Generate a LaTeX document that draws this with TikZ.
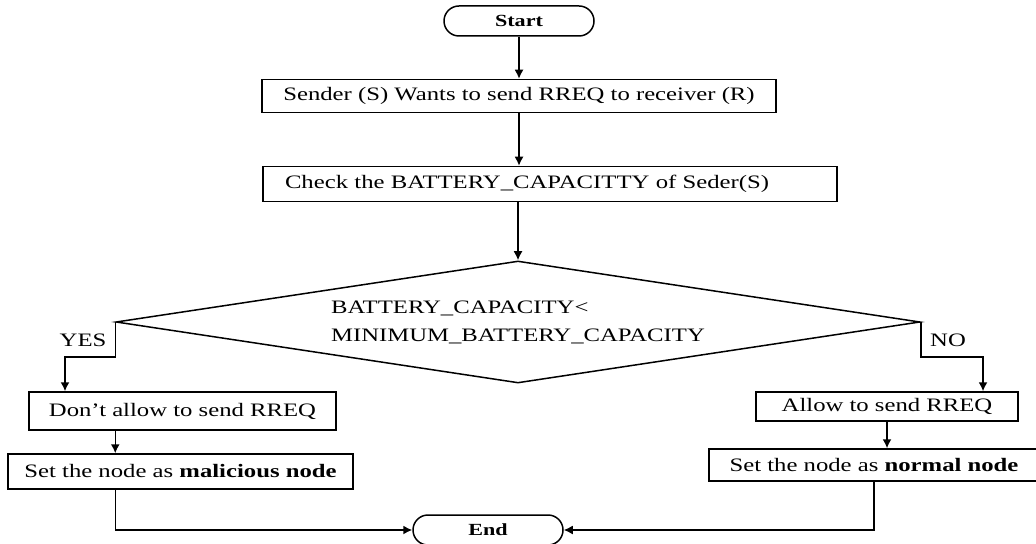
\documentclass[tikz,border=0pt]{standalone}
\usepackage{fontspec}
\setmainfont{Liberation Serif}[FakeStretch=1.3]
\usetikzlibrary{shapes.geometric,arrows.meta}
\newdimen\unitsize
\setlength{\unitsize}{0.5pt}

\begin{document}
\begin{tikzpicture}[x=\unitsize,y=-\unitsize,line width=0.75pt]
\tikzset{box/.style={draw, rectangle, inner sep=0pt, font=\fontsize{9.5}{11}\selectfont}}%
\tikzset{terminal/.style={draw, rectangle, rounded corners=7.5pt, inner sep=0pt, minimum width=150\unitsize, minimum height=30\unitsize, font=\fontsize{8.5}{10}\selectfont\bfseries}}%
\tikzset{decision/.style={draw, diamond, aspect=6.59, inner sep=0pt, minimum width=804\unitsize, minimum height=122\unitsize, align=left, font=\fontsize{9.5}{14}\selectfont}}%
\tikzset{edge/.style={-{Latex[length=4.5pt,width=4.5pt]}}}%
\useasboundingbox (0,0) rectangle (1036,544);
\node[terminal] (start) at (519,21) {Start};
\node[box, minimum width=514\unitsize, minimum height=33\unitsize] (send) at (519,96) {Sender (S) Wants to send RREQ to receiver (R)};
\node[box, inner xsep=11pt, text width=265pt, align=left, minimum height=35\unitsize] (check) at (550,184) {Check the BATTERY\_CAPACITTY of Seder(S)};
\node[decision] (cond) at (518,322) {BATTERY\_CAPACITY<\\MINIMUM\_BATTERY\_CAPACITY};
\node[box, minimum width=307\unitsize, minimum height=38\unitsize] (deny) at (182.5,411) {Don’t allow to send RREQ};
\node[box, minimum width=345\unitsize, minimum height=35\unitsize] (malic) at (180.5,471.5) {Set the node as \textbf{malicious node}};
\node[box, minimum width=262\unitsize, minimum height=29\unitsize] (allow) at (887,406.5) {Allow to send RREQ};
\node[box, minimum width=330\unitsize, minimum height=32\unitsize] (normal) at (874,465) {Set the node as \textbf{normal node}};
\node[terminal] (end) at (488,530) {End};
\coordinate (yesbend) at (65,357);
\coordinate (nobend) at (983,357);
\node[font=\fontsize{9.5}{11}\selectfont] (yes) at (83,340) {YES};
\node[font=\fontsize{9.5}{11}\selectfont] (no) at (948,340) {NO};
% main column
\draw[edge] (start) -- (send);
\draw[edge] (send.south) -- (send.south |- check.north);
\draw[edge] (cond.north |- check.south) -- (cond.north);
% yes branch
\draw[edge] (cond.west) |- (yesbend) -- (yesbend |- deny.north);
\draw[edge] (cond.west |- deny.south) -- (cond.west |- malic.north);
\draw[edge] (cond.west |- malic.south) |- (end.west);
% no branch
\draw[edge] (cond.east) |- (nobend) -- (nobend |- allow.north);
\draw[edge] (allow) -- (allow |- normal.north);
\draw[edge] (normal) |- (end.east);
\end{tikzpicture}
\end{document}
